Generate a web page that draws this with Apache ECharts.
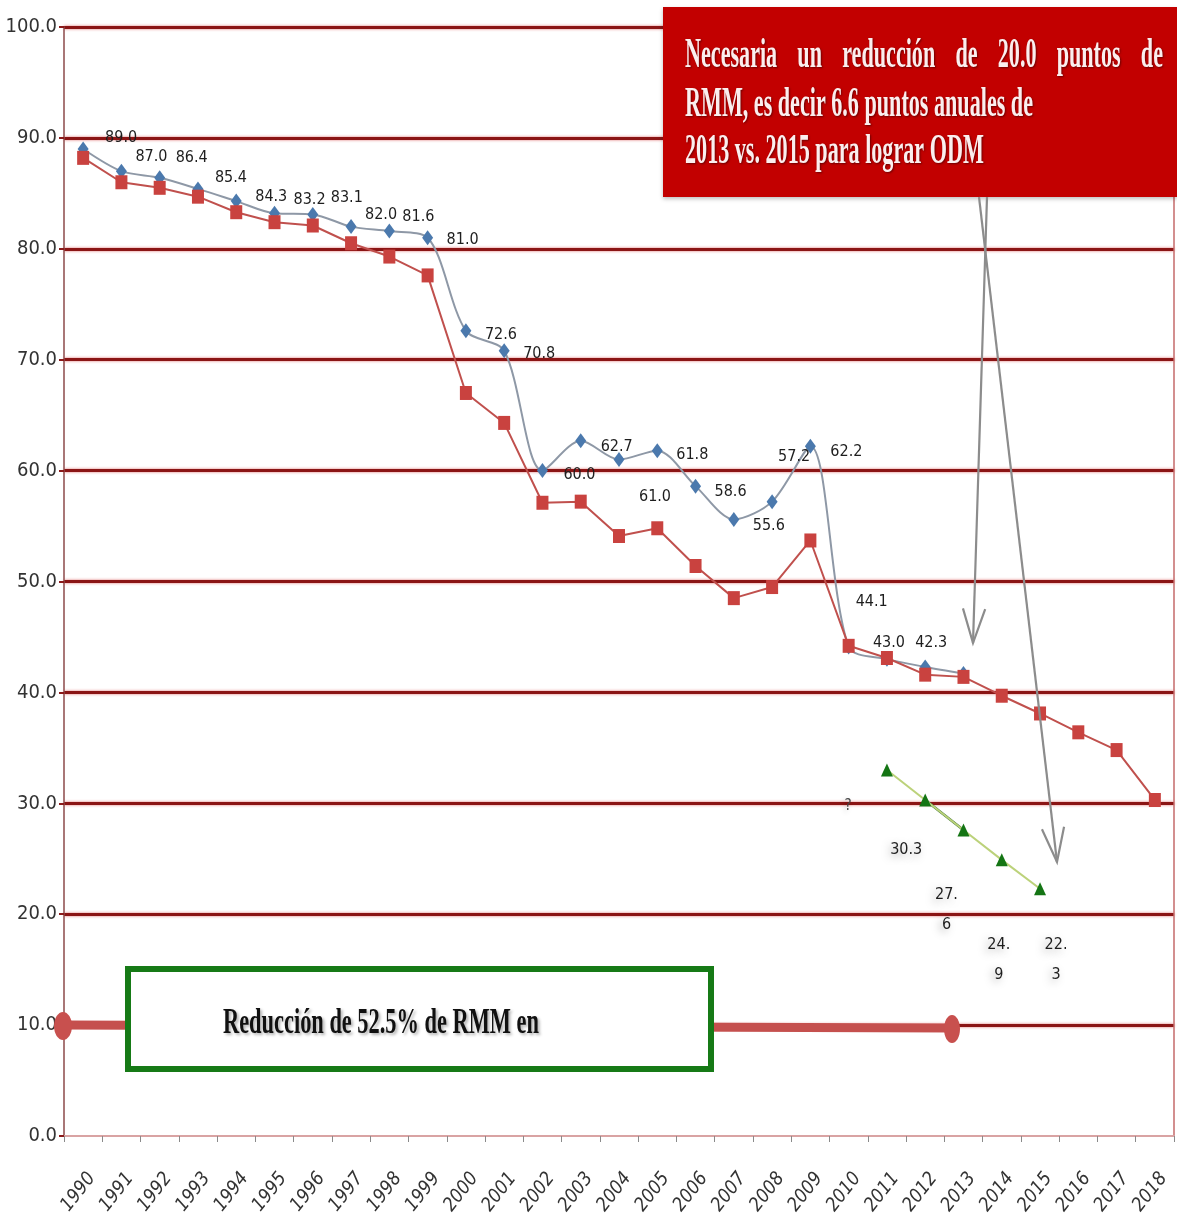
<!DOCTYPE html>
<html>
<head>
<meta charset="utf-8">
<script src="https://cdn.jsdelivr.net/npm/echarts@6/dist/echarts.min.js"></script>
<style>
  html, body { margin: 0; padding: 0; background: #ffffff; }
  #chart { width: 1177px; height: 1228px; }
</style>
</head>
<body>
<div id="chart"></div>
<script>
// Years on the category axis
const years = ['1990','1991','1992','1993','1994','1995','1996','1997','1998','1999',
               '2000','2001','2002','2003','2004','2005','2006','2007','2008','2009',
               '2010','2011','2012','2013','2014','2015','2016','2017','2018'];

// Reported maternal mortality ratio (RMM), labelled values
const rmmReported = [89.0, 87.0, 86.4, 85.4, 84.3, 83.2, 83.1, 82.0, 81.6, 81.0,
                     72.6, 70.8, 60.0, 62.7, 61.0, 61.8, 58.6, 55.6, 57.2, 62.2,
                     44.1, 43.0, 42.3, 41.7, null, null, null, null, null];

// Adjusted trend series, continued as projection to 2018
const rmmTrend = [88.2, 86.0, 85.5, 84.7, 83.3, 82.4, 82.1, 80.5, 79.3, 77.6,
                  67.0, 64.3, 57.1, 57.2, 54.1, 54.8, 51.4, 48.5, 49.5, 53.7,
                  44.2, 43.1, 41.6, 41.4, 39.7, 38.1, 36.4, 34.8, 30.3];

// Path required to reach the ODM target
const rmmGoal = [null, null, null, null, null, null, null, null, null, null,
                 null, null, null, null, null, null, null, null, null, null,
                 null, 33.0, 30.3, 27.6, 24.9, 22.3, null, null, null];

// Value-axis ticks
const yTicks = [0, 10, 20, 30, 40, 50, 60, 70, 80, 90, 100];

// Label placement (pixel offsets from each point)
const reportedLabelOffsets = [[38,-11],[30,-14],[32,-20],[33,-11],[35,-4],[35,-13],[34,-17],[30,-12],[29,-14],[35,2],
                              [35,4],[35,3],[37,4],[36,6],[36,37],[35,4],[35,6],[35,6],[22,-45],[36,6],
                              [23,-45],[2,-16],[6,-24],null,null,null,null,null,null];
const goalLabelOffsets = {22: [-19, 50], 23: [-17, 80], 24: [-3, 100], 25: [16, 71]};

const NARROW = '"Liberation Sans Narrow", "DejaVu Sans Condensed", "Arial Narrow", sans-serif';
const SERIF = '"Liberation Serif", "DejaVu Serif", serif';

const chart = echarts.init(document.getElementById('chart'));

const reportedData = rmmReported.map((v, i) => {
  const off = reportedLabelOffsets[i];
  return off ? { value: v, label: { offset: off } } : { value: v, label: { show: false } };
});

const goalData = rmmGoal.map((v, i) => {
  const off = goalLabelOffsets[i];
  return off ? { value: v, label: { show: true, offset: off } } : { value: v };
});

const goalDarkSegment = rmmGoal.map((v, i) => (i === 22 || i === 23) ? v : null);

// ---- helpers for the annotation boxes ----
const measureCtx = document.createElement('canvas').getContext('2d');
function textWidth(str, font) { measureCtx.font = font; return measureCtx.measureText(str).width; }

const boxFontSize = 42;
const boxFont = 'bold ' + boxFontSize + 'px ' + SERIF;
const boxScale = 348 / textWidth('RMM, es decir 6.6 puntos anuales de', boxFont);

const boxTextStyle = {
  fill: '#fbeeee',
  font: boxFont,
  textAlign: 'left',
  textVerticalAlign: 'middle',
  textShadowColor: 'rgba(40,0,0,0.55)',
  textShadowBlur: 2,
  textShadowOffsetX: 1,
  textShadowOffsetY: 1
};

// First line of the red box is justified between two edges
const line1Words = ['Necesaria', 'un', 'reducción', 'de', '20.0', 'puntos', 'de'];
const line1Left = 685, line1Right = 1163;
const line1Widths = line1Words.map(w => textWidth(w, boxFont) * boxScale);
const line1Gap = (line1Right - line1Left - line1Widths.reduce((a, b) => a + b, 0)) / (line1Words.length - 1);
const boxElements = [];
let cursor = line1Left;
line1Words.forEach((w, k) => {
  boxElements.push({
    type: 'text', x: cursor, y: 56, scaleX: boxScale, z: 120,
    style: Object.assign({ text: w }, boxTextStyle)
  });
  cursor += line1Widths[k] + line1Gap;
});
boxElements.push({ type: 'text', x: 685, y: 105, scaleX: boxScale, z: 120,
  style: Object.assign({ text: 'RMM, es decir 6.6 puntos anuales de' }, boxTextStyle) });
boxElements.push({ type: 'text', x: 685, y: 152, scaleX: boxScale, z: 120,
  style: Object.assign({ text: '2013 vs. 2015 para lograr ODM' }, boxTextStyle) });

// Green box caption
const greenFont = 'bold 36px ' + SERIF;
const greenScale = 316 / textWidth('Reducción de 52.5% de RMM en', greenFont);

// Arrow from a start point to a tip with an open V head
function arrow(x1, y1, x2, y2) {
  const dx = x2 - x1, dy = y2 - y1, len = Math.hypot(dx, dy);
  const ux = dx / len, uy = dy / len;
  const head = 36, ang = 18 * Math.PI / 180;
  const cos = Math.cos(ang), sin = Math.sin(ang);
  const lx = x2 - head * (ux * cos - uy * sin), ly = y2 - head * (uy * cos + ux * sin);
  const rx = x2 - head * (ux * cos + uy * sin), ry = y2 - head * (uy * cos - ux * sin);
  const style = { stroke: '#8c8c8c', lineWidth: 2.2, fill: null };
  return [
    { type: 'line', z: 130, shape: { x1, y1, x2, y2 }, style },
    { type: 'polyline', z: 130, shape: { points: [[lx, ly], [x2, y2], [rx, ry]] }, style }
  ];
}

const graphics = [
  // thick reduction bar along 10.0 with rounded ends
  { type: 'line', z: 90, shape: { x1: 64, y1: 1025, x2: 952, y2: 1028 },
    style: { stroke: '#c5504e', lineWidth: 9 } },
  { type: 'ellipse', z: 91, shape: { cx: 63, cy: 1026, rx: 9, ry: 14 }, style: { fill: '#c8504e' } },
  { type: 'ellipse', z: 91, shape: { cx: 952, cy: 1029, rx: 8, ry: 14 }, style: { fill: '#c8504e' } },
  // green caption box
  { type: 'rect', z: 95, shape: { x: 128, y: 969, width: 583, height: 100 },
    style: { fill: '#ffffff', stroke: '#167a16', lineWidth: 6 } },
  { type: 'text', z: 96, x: 223, y: 1024, scaleX: greenScale,
    style: { text: 'Reducción de 52.5% de RMM en', font: greenFont, fill: '#111111',
             textAlign: 'left', textVerticalAlign: 'middle',
             textShadowColor: 'rgba(0,0,0,0.3)', textShadowBlur: 3, textShadowOffsetX: 2, textShadowOffsetY: 2 } },
  // red note box
  { type: 'rect', z: 110, shape: { x: 663, y: 7, width: 514, height: 190 },
    style: { fill: '#c20000', shadowColor: 'rgba(0,0,0,0.25)', shadowBlur: 4, shadowOffsetY: 2 } },
  // stray mark near 2010
  { type: 'text', z: 96, x: 848, y: 806,
    style: { text: '?', font: '15px ' + NARROW, fill: '#444', textAlign: 'center', textVerticalAlign: 'middle',
             textShadowColor: 'rgba(0,0,0,0.25)', textShadowBlur: 5, textShadowOffsetX: -2, textShadowOffsetY: 2 } }
].concat(boxElements)
 .concat(arrow(987, 197, 973, 643))
 .concat(arrow(979, 197, 1057, 862));

const option = {
  backgroundColor: '#ffffff',
  animation: false,
  grid: { left: 64, right: 3, top: 27, bottom: 92, containLabel: false, outerBoundsMode: 'none' },
  xAxis: {
    type: 'category',
    data: years,
    boundaryGap: true,
    axisLine: { show: true, lineStyle: { color: '#d9a3a3', width: 2 } },
    axisTick: { show: true, length: 6, lineStyle: { color: '#8a8a8a', width: 1 } },
    axisLabel: { rotate: 52, interval: 0, fontStyle: 'italic', fontSize: 19, color: '#333333',
                 fontFamily: NARROW, margin: 50, padding: [0, -14, 0, 0] },
    splitLine: { show: false }
  },
  yAxis: [{
    type: 'value',
    min: yTicks[0], max: yTicks[yTicks.length - 1], interval: yTicks[1] - yTicks[0],
    axisLine: { show: true, lineStyle: { color: '#8d4a4a', width: 1.5 } },
    axisTick: { show: true, length: 5, lineStyle: { color: '#8b1a1a', width: 2 } },
    axisLabel: { formatter: v => v.toFixed(1), fontSize: 20, color: '#333333', fontFamily: NARROW, margin: 7 },
    splitLine: { show: true, showMinLine: false,
      lineStyle: { color: '#8b1515', width: 3, shadowColor: 'rgba(215,80,80,0.8)', shadowBlur: 3 } }
  }, {
    type: 'value', position: 'right',
    min: yTicks[0], max: yTicks[yTicks.length - 1],
    axisLine: { show: true, lineStyle: { color: '#c46a6a', width: 1.5 } },
    axisTick: { show: false }, axisLabel: { show: false }, splitLine: { show: false }
  }],
  series: [
    {
      name: 'RMM reportada',
      type: 'line',
      data: reportedData,
      smooth: 0.3,
      z: 3,
      symbol: 'diamond',
      symbolSize: [11, 15],
      itemStyle: { color: '#4b79ad' },
      lineStyle: { color: '#8e98a6', width: 2 },
      label: { show: true, position: 'inside', formatter: p => p.value.toFixed(1),
               fontSize: 16, color: '#1e1e1e', fontFamily: NARROW }
    },
    {
      name: 'RMM tendencia',
      type: 'line',
      data: rmmTrend,
      z: 4,
      symbol: 'rect',
      symbolSize: [12, 14],
      itemStyle: { color: '#c9423f' },
      lineStyle: { color: '#c0504d', width: 2 }
    },
    {
      name: 'Meta ODM',
      type: 'line',
      data: goalData,
      z: 5,
      symbol: 'triangle',
      symbolSize: [12, 13],
      itemStyle: { color: '#147514' },
      lineStyle: { color: '#bcd27a', width: 2 },
      label: { show: false, position: 'inside', fontSize: 16, color: '#1e1e1e', fontFamily: NARROW,
               lineHeight: 30,
               textShadowColor: 'rgba(0,0,0,0.35)', textShadowBlur: 8, textShadowOffsetX: -3, textShadowOffsetY: 3,
               formatter: p => { const s = p.value.toFixed(1); return p.dataIndex === 22 ? s : s.replace('.', '.\n'); } }
    },
    {
      name: 'Meta ODM tramo',
      type: 'line',
      data: goalDarkSegment,
      z: 4.5,
      symbol: 'none',
      lineStyle: { color: '#2f6b2f', width: 2.5 }
    }
  ],
  graphic: graphics
};

chart.setOption(option);
</script>
</body>
</html>
